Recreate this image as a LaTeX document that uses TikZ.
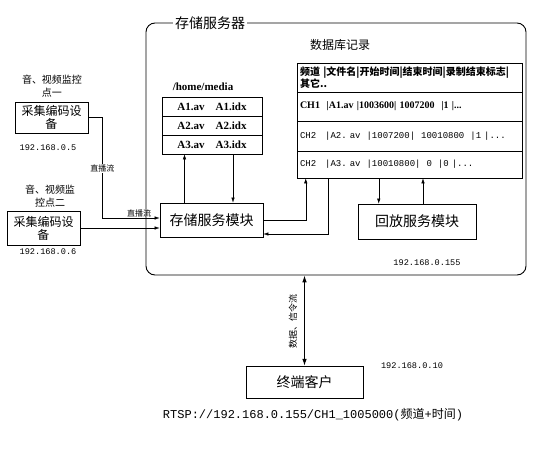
\documentclass[tikz,border=0pt]{standalone}
\usepackage{fontspec}
\setmainfont{Liberation Serif}
\setmonofont{Liberation Mono}
\newfontfamily\cjk{Noto Sans CJK SC}
\usetikzlibrary{arrows.meta,positioning}

\begin{document}
\begin{tikzpicture}[
    x=1pt, y=-1pt,
    module/.style={draw, line width=0.6pt, minimum width=103pt, minimum height=34pt, align=center, font=\cjk\fontsize{14}{16}\selectfont},
    capbox/.style={draw, line width=0.6pt, minimum width=73pt, minimum height=31pt, align=center, inner sep=1pt, font=\cjk\fontsize{12}{13}\selectfont},
    filerow/.style={draw, line width=0.5pt, minimum width=100pt, minimum height=19pt, inner sep=0pt, font=\bfseries\fontsize{11}{12}\selectfont},
    dbrow/.style={draw, line width=0.5pt, text width=219pt, minimum height=29pt, inner xsep=3pt, inner ysep=0pt, align=left},
    note/.style={align=center, inner sep=1pt, font=\cjk\fontsize{10}{13}\selectfont},
    ip/.style={inner sep=1pt, font=\ttfamily\fontsize{8.6}{10}\selectfont},
    arrow/.style={-{Latex[length=1.8mm,width=1.2mm]}, line width=0.5pt}
]
\useasboundingbox (0,0) rectangle (552,450);

% storage server frame
\node[draw, rounded corners=9pt, line width=0.9pt, minimum width=380pt, minimum height=252pt] (server) at (336,149) {};
\node[fill=white, inner sep=2pt, font=\cjk\fontsize{14}{16}\selectfont] (title) at (210,23) {存储服务器};

% capture points
\node[note] (src1) at (52,86) {音、视频监控\\点一};
\node[capbox] (cap1) at (51.5,117.5) {采集编码设\\备};
\node[ip] (ip1) at (48,148) {192.168.0.5};
\node[note] (src2) at (50,196) {音、视频监\\控点二};
\node[capbox, minimum height=34pt] (cap2) at (43.5,228) {采集编码设\\备};
\node[ip] (ip2) at (48,252) {192.168.0.6};

% media files
\node[font=\bfseries\fontsize{11}{12}\selectfont] (media) at (203,87) {/home/media};
\node[filerow] (f1) at (212,106.5) {A1.av\quad A1.idx};
\node[filerow] (f2) at (212,125.5) {A2.av\quad A2.idx};
\node[filerow] (f3) at (212,144.5) {A3.av\quad A3.idx};

% database records
\node[font=\cjk\fontsize{12}{14}\selectfont] (dbtitle) at (340,45) {数据库记录};
\node[dbrow, font=\cjk\bfseries\fontsize{10}{12}\selectfont] (db0) at (409.5,77.5) {\mbox{频道 |文件名|开始时间|结束时间|录制结束标志|}\\其它..};
\node[dbrow, font=\bfseries\fontsize{10}{12}\selectfont] (db1) at (409.5,106.5) {CH1~~|A1.av~|1003600|~1007200~~|1~|...};
\node[dbrow, minimum height=30pt, font=\ttfamily\fontsize{9}{10}\selectfont] (db2) at (409.5,136) {CH2~~~|A2.~av~~|1007200|~~10010800~~|1~|...};
\node[dbrow, minimum height=27pt, font=\ttfamily\fontsize{9}{10}\selectfont] (db3) at (409.5,164.5) {CH2~~~|A3.~av~~|10010800|~~0~~|0~|...};

% modules
\node[module] (store) at (211.5,220) {存储服务模块};
\node[module, minimum width=118pt, minimum height=35pt] (play) at (417,221.5) {回放服务模块};
\node[ip] (ip3) at (427,263) {192.168.0.155};

% client
\node[module, minimum width=117pt, minimum height=32pt] (client) at (304.5,382) {终端客户};
\node[ip] (ip4) at (412,366) {192.168.0.10};
\node[font=\cjk\fontsize{9}{10}\selectfont, rotate=90] (flow) at (293,321) {数据、信令流};
\node[font=\ttfamily\fontsize{12}{14}\selectfont] (rtsp) at (313,415) {RTSP://192.168.0.155/CH1\_1005000({\cjk 频道}+{\cjk 时间})};

% live streams
\draw[arrow] (cap1.east) -- ++(14,0) node[pos=1, below=46pt, fill=white, inner sep=1pt, font=\cjk\fontsize{8}{9}\selectfont] {直播流} |- ([yshift=2pt]store.west) node[pos=0.82, above, inner sep=1pt, font=\cjk\fontsize{8}{9}\selectfont] {直播流};
\draw[arrow] (cap2.east) -- (cap2.east -| store.west);

% files <-> storage module
\draw[arrow] ([xshift=-27pt]store.north) -- ([xshift=-27pt]store.north |- f3.south);
\draw[arrow] ([xshift=21pt]f3.south) -- ([xshift=21pt]f3.south |- store.north);

% storage module <-> database
\draw[arrow] (store.east) -| ([xshift=9pt]db3.south west);
\draw[arrow] ([xshift=31pt]db3.south west) |- ([yshift=-14pt]store.east);

% database <-> playback
\draw[arrow] ([xshift=82pt]db3.south west) -- ([xshift=82pt]db3.south west |- play.north);
\draw[arrow] ([xshift=6pt]play.north) -- ([xshift=6pt]play.north |- db3.south);

% server <-> client
\draw[{Latex[length=2.4mm,width=1.6mm]}-{Latex[length=2.4mm,width=1.6mm]}, line width=0.9pt] (client.north |- server.south) -- (client.north);
\end{tikzpicture}
\end{document}
